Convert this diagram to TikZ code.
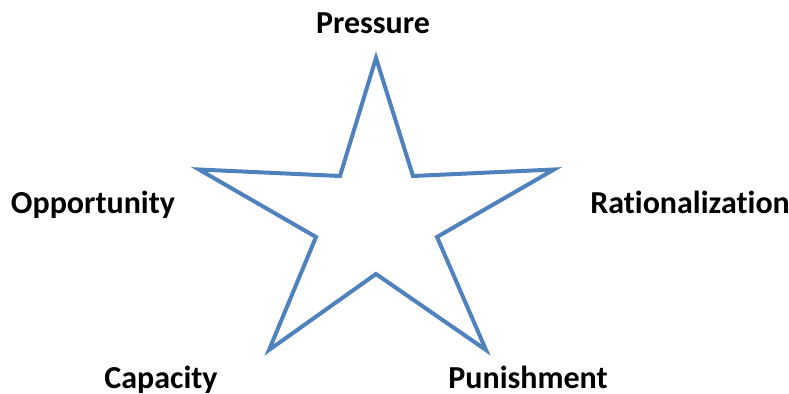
\documentclass[tikz,border=0pt]{standalone}
\usepackage{fontspec}
\setmainfont[Ligatures=NoCommon]{Carlito}
\usepackage{tikz}
\definecolor{starblue}{RGB}{79,129,189}
\tikzset{
  starline/.style={draw=starblue, line width=3pt, line join=miter},
  label/.style={font=\fontsize{24}{28}\selectfont\bfseries, anchor=base, inner sep=0pt}
}
\begin{document}
\begin{tikzpicture}[x=0.75pt, y=-0.75pt]
  \useasboundingbox (0,0) rectangle (789,393);
  % Star outline
  \draw[starline] (376,58) -- (413,176) -- (554,169.5) -- (437,237) -- (486,350)
    -- (376,274) -- (269,350) -- (316,237) -- (199,169.5) -- (340,176) -- cycle;
  % Labels at the points
  \node[label] (pressure) at (373,33) {Pressure};
  \node[label] (opportunity) at (93,213) {Opportunity};
  \node[label] (rationalization) at (690,213) {Rationalization};
  \node[label] (capacity) at (161,388) {Capacity};
  \node[label] (punishment) at (528,388) {Punishment};
\end{tikzpicture}
\end{document}
